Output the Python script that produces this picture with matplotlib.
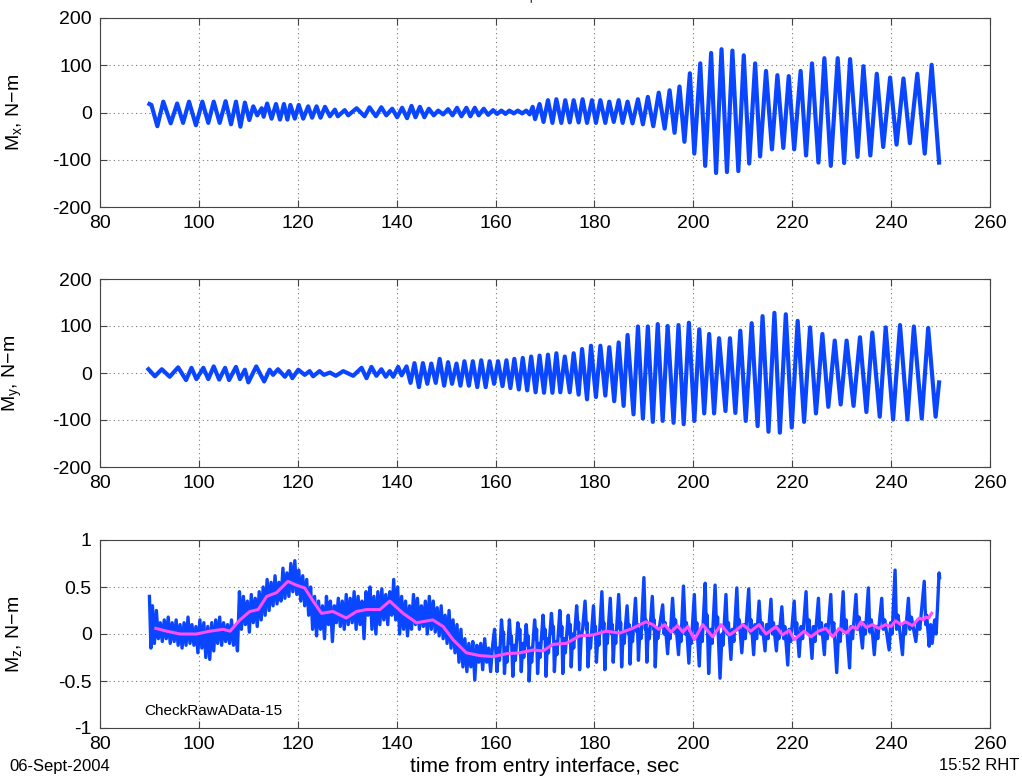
import matplotlib
matplotlib.use("Agg")
import matplotlib.pyplot as plt

plt.rcParams['font.family'] = ['Liberation Sans', 'DejaVu Sans']
plt.rcParams['axes.unicode_minus'] = False
plt.rcParams['mathtext.fontset'] = 'custom'
plt.rcParams['mathtext.rm'] = 'Liberation Sans'
plt.rcParams['mathtext.it'] = 'Liberation Sans:italic'

# --- M_x: read-off peaks / troughs (time, N-m) ---
mx_t = [90.0, 90.4, 91.6, 92.8, 94.3, 95.6, 96.8, 98.0, 99.4, 100.7, 101.9, 103.0, 104.2, 105.4,
        106.5, 107.5, 108.4, 109.3, 110.2, 111.0, 111.8, 112.7, 113.1, 113.8, 114.7, 115.6, 116.4,
        117.2, 117.9, 118.5, 119.4, 120.2, 121.1, 122.1, 122.9, 123.8, 124.6, 125.5, 126.5, 127.5,
        128.1, 129.5, 130.2, 131.9, 133.5, 134.5, 135.8, 136.9, 137.9, 139.1, 140.1, 141.1, 142.1,
        143.0, 143.8, 144.7, 145.6, 146.5, 147.5, 148.4, 149.4, 150.4, 151.3, 152.2, 153.1, 154.1,
        154.9, 155.8, 156.6, 157.6, 158.5, 159.5, 160.3, 161.2, 162.0, 162.8, 163.7, 164.5, 165.4,
        166.2, 166.9, 167.5, 168.0, 168.9, 169.7, 170.6, 171.5, 172.3, 173.3, 174.1, 175.0, 175.8,
        176.8, 177.6, 178.5, 179.5, 180.3, 181.2, 182.2, 183.0, 183.9, 184.9, 185.7, 186.7, 187.7,
        188.8, 189.8, 190.8, 191.9, 193.0, 194.2, 195.2, 196.2, 197.2, 198.2, 199.3, 200.2, 201.4,
        202.4, 203.6, 204.6, 205.7, 206.8, 207.9, 209.1, 210.2, 211.3, 212.5, 213.5, 214.7, 215.9,
        217.0, 218.2, 219.3, 220.4, 221.7, 222.8, 224.0, 225.3, 226.5, 227.8, 229.2, 230.5, 231.7,
        233.2, 234.4, 235.8, 237.1, 238.4, 239.8, 241.1, 242.5, 243.8, 245.3, 246.8, 248.2, 249.7]
mx_v = [18, 16, -29, 23, -23, 19, -22, 23, -27, 23, -22, 23, -22, 24,
        -25, 23, -30, 21, -16, 13, -6, 9, -9, 19, -13, 18, -15,
        18, -15, 16, -13, 16, -13, 13, -11, 13, -11, 12, -8, 6,
        -8, 5, -6, 9, -8, 11, -8, 11, -6, 8, -10, 10, -12,
        14, -10, 12, -10, 8, -6, 4, -4, 7, -6, 10, -8, 10,
        -8, 10, -6, 8, -5, 5, -3, 4, -3, 4, -2, 4, -2,
        4, -4, 12, -14, 18, -20, 26, -22, 28, -22, 26, -21, 26,
        -21, 28, -22, 26, -22, 26, -22, 23, -20, 26, -22, 23, -23,
        28, -25, 33, -29, 42, -34, 47, -43, 55, -62, 83, -87, 104,
        -113, 126, -128, 134, -126, 131, -124, 121, -108, 104, -93, 88, -78,
        79, -75, 77, -78, 88, -91, 104, -106, 115, -113, 115, -107, 113,
        -94, 98, -91, 82, -73, 74, -68, 72, -65, 82, -87, 101, -106]

# --- M_y ---
my_t = [89.8, 91.1, 92.5, 94.1, 95.8, 97.4, 98.5, 99.5, 100.9, 101.9, 103.0, 104.1, 105.3, 106.1,
        107.5, 108.3, 109.3, 110.0, 111.6, 113.2, 114.3, 115.0, 116.0, 117.4, 118.2, 118.9, 120.1,
        121.4, 122.4, 123.1, 124.4, 125.3, 126.5, 127.7, 129.2, 131.2, 132.9, 133.9, 134.9, 135.9,
        136.9, 137.8, 138.6, 139.3, 140.3, 141.0, 142.0, 142.8, 143.6, 144.5, 145.3, 146.2, 147.0,
        147.9, 148.7, 149.6, 150.4, 151.2, 152.1, 152.9, 153.7, 154.6, 155.4, 156.3, 157.1, 158.0,
        158.8, 159.7, 160.5, 161.4, 162.2, 163.0, 163.8, 164.7, 165.5, 166.4, 167.2, 168.1, 168.9,
        169.8, 170.6, 171.5, 172.3, 173.1, 174.0, 175.0, 175.8, 176.8, 177.5, 178.5, 179.3, 180.3,
        181.2, 182.2, 183.0, 184.0, 184.9, 185.9, 186.7, 187.9, 188.8, 189.8, 190.8, 191.8, 192.8,
        193.8, 194.8, 196.0, 197.0, 198.05, 199.1, 200.2, 201.2, 202.2, 203.2, 204.2, 205.2, 206.5,
        207.4, 208.5, 209.5, 210.6, 211.8, 213.0, 214.0, 215.2, 216.4, 217.5, 218.7, 219.9, 221.1,
        222.4, 223.6, 224.8, 226.1, 227.3, 228.6, 229.8, 231.0, 232.4, 233.7, 235.0, 236.2, 237.7,
        238.9, 240.4, 241.8, 243.3, 244.6, 246.2, 247.5, 249.0, 249.7]
my_v = [8, -7, 8, -8, 12, -15, 11, -13, 11, -13, 14, -14, 11, -15,
        13, -13, 7, -20, 14, -18, 7, -4, 8, -8, 4, -11, 7,
        -4, 4, -7, 4, -4, 1, -6, 4, -6, 11, -11, 13, -6,
        8, -8, 4, -8, 13, -5, 14, -21, 21, -30, 21, -23, 20,
        -21, 30, -27, 23, -23, 20, -27, 25, -27, 25, -30, 27, -30,
        25, -23, 25, -28, 27, -32, 30, -35, 32, -37, 35, -41, 37,
        -42, 39, -42, 42, -41, 35, -41, 42, -46, 51, -56, 58, -51,
        58, -48, 55, -60, 65, -70, 81, -88, 99, -97, 99, -104, 104,
        -102, 100, -106, 102, -109, 107, -102, 93, -86, 83, -86, 74, -81,
        74, -85, 90, -102, 106, -113, 121, -125, 128, -127, 125, -116, 111,
        -104, 97, -86, 83, -72, 69, -67, 69, -70, 76, -83, 86, -93,
        97, -99, 102, -99, 99, -97, 96, -93, -20]

# --- M_z raw ---
mz_t = [90.0, 90.3, 90.6, 91.0, 91.4, 91.8, 92.2, 92.6, 93.0, 93.4, 93.8, 94.2, 94.6, 95.0,
        95.4, 95.8, 96.2, 96.6, 97.0, 97.4, 97.8, 98.2, 98.6, 99.0, 99.4, 99.8, 100.2, 100.6,
        101.0, 101.4, 101.8, 102.2, 102.6, 103.0, 103.4, 103.8, 104.2, 104.6, 105.0, 105.4, 105.8,
        106.2, 106.6, 107.0, 107.4, 107.8,
        108.2, 108.6, 109.0, 109.4, 109.8, 110.2, 110.6, 111.0, 111.4, 111.8, 112.2, 112.6, 113.0, 113.4,
        113.8, 114.2, 114.6, 115.0, 115.4, 115.8, 116.2, 116.6, 117.0, 117.4, 117.8, 118.2, 118.6,
        119.0, 119.4, 119.8,
        120.2, 120.6, 121.0, 121.4, 121.8, 122.2, 122.6, 123.0, 123.4,
        123.8, 124.2, 124.6, 125.0, 125.4, 125.8, 126.2, 126.6, 127.0, 127.4, 127.8, 128.2, 128.6,
        129.0, 129.4, 129.8, 130.2, 130.6, 131.0, 131.4, 131.8, 132.2, 132.6, 133.0, 133.4, 133.8,
        134.2, 134.6, 135.0, 135.4, 135.8, 136.2, 136.6, 137.0, 137.4, 137.8, 138.2, 138.6, 139.0,
        139.4, 139.8, 140.2,
        140.6, 141.0, 141.4, 141.8, 142.2, 142.6, 143.0, 143.4, 143.8, 144.2, 144.6, 145.0, 145.4,
        145.8, 146.2, 146.6, 147.0, 147.4, 147.8, 148.2, 148.6, 149.0, 149.4, 149.8,
        150.2, 150.6, 151.0, 151.4, 151.8, 152.2, 152.6, 153.0, 153.4,
        153.8, 154.2, 154.6, 155.0, 155.4, 155.8, 156.2, 156.6, 157.0, 157.4, 157.8, 158.2, 158.6,
        159.0, 159.4,
        159.8, 160.3, 160.6, 160.8, 161.2, 161.5, 161.6, 161.8, 162.1, 162.3, 162.8, 163.1, 163.2,
        163.5, 163.8, 164.0, 164.5, 164.8, 164.9, 165.2, 165.5, 165.7, 166.2, 166.5, 166.6, 166.8,
        167.1, 167.3, 167.9, 168.2, 168.3, 168.5, 168.8, 169.0, 169.6, 169.9, 170.0, 170.2, 170.5,
        170.7, 171.3, 171.6, 171.7, 171.9, 172.2, 172.4, 173.0, 173.3, 173.4, 173.6, 173.9, 174.1,
        174.7, 175.0, 175.1, 175.3, 175.6, 175.8, 176.4, 176.7, 176.8, 177.0,
        177.3, 177.6, 178.1, 178.4, 178.5, 178.7, 179.0, 179.2, 179.8, 180.1, 180.2, 180.4, 180.7,
        180.9, 181.5, 181.8, 181.9, 182.1, 182.4, 182.6, 183.2, 183.5, 183.6, 183.8, 184.1, 184.3,
        184.9, 185.2, 185.3, 185.5, 185.8, 186.0, 186.6, 186.9, 187.0, 187.2, 187.5, 187.7, 188.3,
        188.6, 188.7, 188.9, 189.2, 189.4, 190.0, 190.3, 190.4, 190.6, 190.9, 191.1, 191.7, 192.0,
        192.1, 192.3, 192.6, 192.8,
        193.8, 194.1, 194.3, 194.8, 195.1, 195.3, 195.8, 196.2, 196.4, 197.0, 197.3, 197.5, 198.0,
        198.4, 198.6, 199.1, 199.4, 199.6, 200.2, 200.5, 200.7, 201.2, 201.5, 201.8, 202.4, 202.6,
        202.8, 203.1, 203.5, 203.8, 204.4, 204.7, 204.9, 205.4, 205.8, 206.0, 206.6, 206.9, 207.1,
        207.6, 207.9, 208.2, 208.8, 209.1, 209.3, 209.8, 210.2, 210.5, 211.2, 211.5, 211.7, 212.2,
        212.5, 212.8, 213.3, 213.7, 213.9, 214.5, 214.8, 215.1, 215.7, 216.0, 216.2, 216.8, 217.1,
        217.3, 217.9, 218.3, 218.5, 219.1, 219.4, 219.7, 220.4, 220.7, 220.9, 221.4, 221.8, 222.1,
        222.8, 223.1, 223.4, 224.0, 224.3, 224.6, 225.3, 225.6, 225.9, 226.5, 226.8, 227.1, 227.8,
        228.1, 228.4, 229.0, 229.4, 229.7, 230.3, 230.6, 230.9, 231.6, 231.9, 232.2, 232.9, 233.2,
        233.5, 234.2, 234.5, 234.8, 235.4, 235.7, 236.0, 236.6, 237.0, 237.3, 238.1, 238.4, 238.7,
        239.6, 239.9, 240.2, 240.8, 241.1, 241.4, 242.3, 242.6, 242.9, 243.5, 243.8, 244.1, 245.0,
        245.4, 245.8, 246.7, 247.0, 247.2, 247.7, 248.0, 248.3, 248.8, 249.1, 249.4, 249.7, 249.8]
mz_v = [0.40, -0.15, 0.30, -0.10, 0.25, -0.05, 0.12, -0.08, 0.15, -0.05, 0.18, -0.10, 0.12, -0.08,
        0.15, -0.12, 0.10, -0.15, 0.12, -0.12, 0.18, -0.10, 0.10, -0.12, 0.08, -0.20, 0.15, -0.15,
        0.12, -0.25, 0.08, -0.27, 0.12, -0.18, 0.15, -0.10, 0.18, -0.12, 0.12, -0.08, 0.10,
        -0.10, 0.15, -0.12, 0.08, -0.18,
        0.45, 0.05, 0.40, 0.10, 0.35, 0.02, 0.42, 0.12, 0.38, 0.08, 0.45, 0.15, 0.50, 0.20,
        0.58, 0.25, 0.55, 0.30, 0.62, 0.32, 0.55, 0.35, 0.70, 0.38, 0.65, 0.40, 0.75,
        0.45, 0.78, 0.42,
        0.68, 0.35, 0.62, 0.30, 0.58, 0.20, 0.50, 0.05, 0.40,
        -0.02, 0.35, 0.05, 0.30, -0.05, 0.40, 0.10, 0.35, -0.08, 0.30, 0.12, 0.38, 0.08,
        0.35, 0.05, 0.42, 0.10, 0.38, 0.12, 0.45, 0.05, 0.40, 0.10, 0.35, -0.05, 0.45,
        0.20, 0.50, 0.05, 0.40, 0.00, 0.45, 0.10, 0.48, 0.15, 0.42, 0.10, 0.45, 0.20,
        0.58, 0.15, 0.50,
        0.00, 0.40, 0.05, 0.35, -0.02, 0.30, 0.05, 0.42, 0.10, 0.38, 0.05, 0.30, 0.08,
        0.35, 0.00, 0.40, 0.05, 0.35, 0.02, 0.28, -0.02, 0.30, -0.05, 0.20,
        -0.10, 0.25, -0.15, 0.15, -0.20, 0.10, -0.30, 0.05, -0.35,
        -0.05, -0.40, -0.10, -0.35, -0.08, -0.49, -0.12, -0.30, -0.10, -0.38, -0.05, -0.30, -0.15,
        -0.40, -0.12,
        0.05, -0.40, -0.15, -0.28, 0.15, -0.05, 0.02, -0.42, -0.15, -0.30, 0.15, -0.10, -0.02,
        -0.45, -0.12, -0.28, 0.12, -0.05, 0.05, -0.40, -0.10, -0.25, 0.10, -0.12, -0.02, -0.50,
        -0.15, -0.30, 0.15, -0.05, 0.05, -0.42, -0.10, -0.25, 0.20, -0.05, 0.05, -0.45, -0.05,
        -0.20, 0.22, 0.00, 0.08, -0.40, -0.08, -0.22, 0.25, -0.02, 0.08, -0.42, -0.05, -0.20,
        0.20, 0.00, 0.10, -0.35, 0.00, -0.15, 0.30, 0.05, 0.12, -0.38,
        -0.05, 0.05, 0.35, 0.05, 0.12, -0.35, -0.05, -0.15, 0.30, 0.00, 0.08, -0.30, 0.00,
        -0.12, 0.45, 0.05, 0.12, -0.38, 0.00, -0.10, 0.38, 0.00, 0.10, -0.30, 0.02, -0.10,
        0.42, 0.05, 0.12, -0.35, 0.00, -0.10, 0.30, 0.00, 0.10, -0.32, 0.05, -0.08, 0.38,
        0.02, 0.10, -0.28, 0.05, -0.05, 0.60, 0.05, 0.15, -0.30, 0.05, -0.05, 0.40, 0.05,
        0.15, -0.35, 0.05, -0.05,
        0.31, 0.00, 0.12, -0.21, 0.05, -0.05, 0.38, 0.02, 0.15, -0.22, 0.05, -0.08, 0.51,
        0.00, 0.12, -0.31, 0.02, -0.10, 0.42, 0.00, 0.12, -0.34, 0.05, -0.08, 0.54, 0.10,
        0.20, -0.42, 0.05, -0.10, 0.52, 0.05, 0.18, -0.47, 0.00, -0.12, 0.42, 0.00, 0.12,
        -0.27, 0.05, -0.08, 0.49, 0.05, 0.15, -0.20, 0.10, -0.05, 0.48, 0.02, 0.15, -0.22,
        0.10, -0.05, 0.35, 0.00, 0.12, -0.18, 0.10, -0.05, 0.37, 0.00, 0.12, -0.18, 0.08,
        -0.05, 0.29, -0.05, 0.08, -0.33, 0.05, -0.08, 0.35, 0.00, 0.12, -0.24, 0.08, -0.05,
        0.45, 0.02, 0.15, -0.26, 0.08, -0.08, 0.38, 0.00, 0.12, -0.22, 0.10, -0.05, 0.42,
        0.00, 0.12, -0.41, 0.05, -0.08, 0.45, 0.02, 0.15, -0.36, 0.08, -0.05, 0.42, 0.05,
        0.18, -0.15, 0.12, 0.00, 0.49, 0.02, 0.15, -0.22, 0.08, -0.05, 0.38, 0.05, 0.15,
        -0.17, 0.12, 0.00, 0.68, 0.05, 0.20, -0.22, 0.10, 0.00, 0.38, 0.05, 0.18, -0.08,
        0.15, 0.05, 0.56, 0.10, 0.20, -0.13, 0.10, -0.10, 0.15, 0.00, 0.30, 0.65, 0.60]

# --- M_z smoothed ---
mzs_t = [91.3, 93.5, 96.2, 99.5, 102.2, 104.9, 106.3, 108.3, 110.3, 112.0, 113.7, 115.7, 118.0,
         119.7, 121.4, 123.1, 124.8, 127.1, 129.8, 131.9, 133.9, 136.6, 138.6, 141.3, 144.0,
         147.3, 149.4, 151.4, 154.1, 156.8, 159.5, 162.2, 164.9, 167.6, 169.6, 171.6, 174.3,
         177.0, 179.7, 182.4, 185.1, 187.7, 190.4, 191.8, 193.0, 194.2, 195.5, 196.8, 197.9,
         198.9, 200.2, 201.9, 203.9, 205.6, 207.3, 208.7, 210.0, 211.6, 213.3, 214.7, 216.7,
         218.0, 219.4, 220.4, 222.4, 223.8, 225.3, 226.8, 228.2, 229.5, 230.9, 232.2, 233.0,
         233.9, 235.0, 236.2, 237.5, 238.9, 240.0, 240.9, 242.0, 242.9, 244.3, 245.7, 246.5,
         247.0, 247.6, 248.2]
mzs_v = [0.06, 0.03, 0.00, 0.00, 0.03, 0.05, 0.03, 0.15, 0.24, 0.26, 0.40, 0.44, 0.56,
         0.52, 0.49, 0.35, 0.22, 0.24, 0.17, 0.24, 0.26, 0.26, 0.35, 0.22, 0.12,
         0.15, 0.08, -0.06, -0.20, -0.23, -0.24, -0.21, -0.20, -0.17, -0.18, -0.11, -0.10,
         -0.02, -0.01, 0.03, 0.01, 0.06, 0.13, 0.10, 0.05, 0.10, 0.02, 0.09, 0.02,
         0.08, -0.06, 0.10, -0.03, 0.10, -0.01, 0.04, 0.10, 0.03, 0.10, 0.00, 0.08,
         -0.01, 0.04, -0.06, 0.03, -0.03, 0.03, 0.06, -0.03, 0.06, 0.01, 0.08, 0.05,
         0.13, 0.07, 0.10, 0.06, 0.10, 0.08, 0.14, 0.10, 0.13, 0.09, 0.17, 0.15,
         0.18, 0.17, 0.22]

blue = '#0a46ff'
pink = '#ff4dff'
W, H = 1022, 778
fig = plt.figure(figsize=(W / 100, H / 100), dpi=100)

rects = [(100, 18, 207), (100, 279, 467), (100, 540, 728)]
axes = []
for left, top, bot in rects:
    ax = fig.add_axes([left / W, 1 - bot / H, 890 / W, (bot - top) / H])
    axes.append(ax)


def style(ax, ylim, yticks, ylabel):
    ax.set_xlim(80, 260)
    ax.set_xticks(range(80, 261, 20))
    ax.set_ylim(*ylim)
    ax.set_yticks(yticks)
    ax.grid(True, linestyle=(0, (1, 3)), color='#777777', linewidth=0.8)
    ax.tick_params(direction='in', top=True, right=True, length=5, labelsize=14,
                   color='#444444', pad=6)
    for s in ax.spines.values():
        s.set_color('#444444')
        s.set_linewidth(0.8)
    ax.set_ylabel(ylabel, fontsize=14)
    ax.yaxis.set_label_coords(-0.085, 0.5)


axes[0].plot(mx_t, mx_v, color=blue, lw=3.0, solid_joinstyle='round')
style(axes[0], (-200, 200), [-200, -100, 0, 100, 200], 'M$_\\mathrm{x}$, N\u2212m')

axes[1].plot(my_t, my_v, color=blue, lw=3.0, solid_joinstyle='round')
style(axes[1], (-200, 200), [-200, -100, 0, 100, 200], 'M$_\\mathrm{y}$, N\u2212m')

axes[2].plot(mz_t, mz_v, color=blue, lw=2.4, solid_joinstyle='round')
axes[2].plot(mzs_t, mzs_v, color=pink, lw=2.2, solid_joinstyle='round')
style(axes[2], (-1, 1), [-1, -0.5, 0, 0.5, 1], 'M$_\\mathrm{z}$, N\u2212m')
axes[2].set_yticklabels(['-1', '-0.5', '0', '0.5', '1'])
axes[2].text(89, -0.82, 'CheckRawAData-15', fontsize=11, va='center', ha='left')

fig.text(545 / W, 1 - 766 / H, 'time from entry interface, sec', fontsize=15, ha='center', va='center')
fig.text(9 / W, 1 - 766 / H, '06-Sept-2004', fontsize=12, ha='left', va='center')
fig.text(1019 / W, 1 - 766 / H, '15:52 RHT', fontsize=12, ha='right', va='center')
fig.text(530 / W, 1 - 5 / H, "'", fontsize=9, ha='center', va='center')

fig.savefig('out.png', dpi=100)
